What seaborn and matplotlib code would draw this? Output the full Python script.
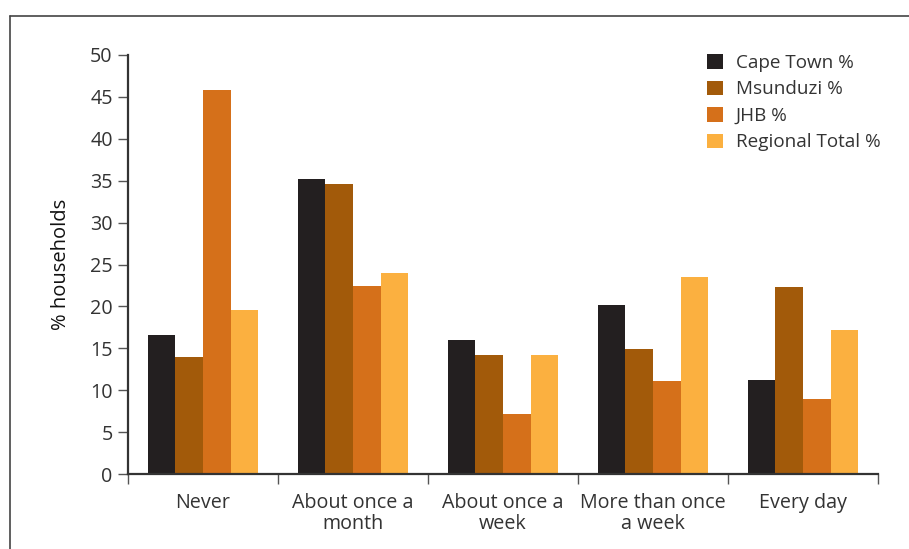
import numpy as np
import pandas as pd
import matplotlib
matplotlib.use("Agg")
import matplotlib.pyplot as plt
from matplotlib.lines import Line2D
import seaborn as sns

categories = ["Never", "About once a\nmonth", "About once a\nweek", "More than once\na week", "Every day"]
series = ["Cape Town %", "Msunduzi %", "JHB %", "Regional Total %"]
cape_town = [16.6, 35.2, 16.0, 20.2, 11.2]
msunduzi = [14.0, 34.6, 14.2, 14.9, 22.3]
jhb = [45.8, 22.4, 7.2, 11.1, 8.9]
regional = [19.6, 24.0, 14.2, 23.5, 17.2]
colors = ["#231f20", "#a25a0a", "#d5701a", "#fbb040"]

rows = []
for name, vals in zip(series, [cape_town, msunduzi, jhb, regional]):
	for cat, v in zip(categories, vals):
		rows.append({"cat": cat, "series": name, "value": v})
df = pd.DataFrame(rows)

sns.set_style("white")
plt.rcParams['font.family'] = ['Open Sans', 'DejaVu Sans']
txt = "#333333"

fig = plt.figure(figsize=(9.09, 5.49), dpi=100)
ax = fig.add_axes([128/909, 1-474/549, 750/909, (474-55)/549])

sns.barplot(data=df, x="cat", y="value", hue="series", order=categories,
	hue_order=series, palette=colors, width=0.735, gap=0, saturation=1,
	linewidth=0, ax=ax)

ax.set_ylim(0, 50)
ax.set_xlim(-0.5, len(categories)-0.5)
ax.set_yticks(np.arange(0, 51, 5))
ax.set_xlabel("")
ax.set_ylabel("% households", fontsize=14.5, color="#111111", labelpad=14)

for s in ["top", "right"]:
	ax.spines[s].set_visible(False)
for s in ["left", "bottom"]:
	ax.spines[s].set_color("#333333")
	ax.spines[s].set_linewidth(1.6)

ax.tick_params(axis="y", which="major", length=7, width=1, color="#555555",
	labelsize=14.2, labelcolor=txt, pad=4, left=True)
ax.tick_params(axis="x", which="major", length=0, labelsize=14.2, labelcolor=txt, pad=14)
for lab in ax.get_xticklabels():
	lab.set_linespacing(1.05)
ax.set_xticks(np.arange(-0.5, len(categories), 1), minor=True)
ax.tick_params(axis="x", which="minor", length=7, width=1, color="#555555", bottom=True)

leg = ax.legend(loc="upper right", bbox_to_anchor=(1.026, 1.043), frameon=False,
	fontsize=13.6, handlelength=0.8, handleheight=0.8, handletextpad=0.7,
	labelspacing=0.45, labelcolor=txt)

# outer frame (left and top edges of the surrounding box)
fig.add_artist(Line2D([10/909, 10/909], [0, 1-16/549], color="#444444", lw=1.2))
fig.add_artist(Line2D([10/909, 1], [1-16/549, 1-16/549], color="#444444", lw=1.2))

fig.savefig("out.png", dpi=100)
